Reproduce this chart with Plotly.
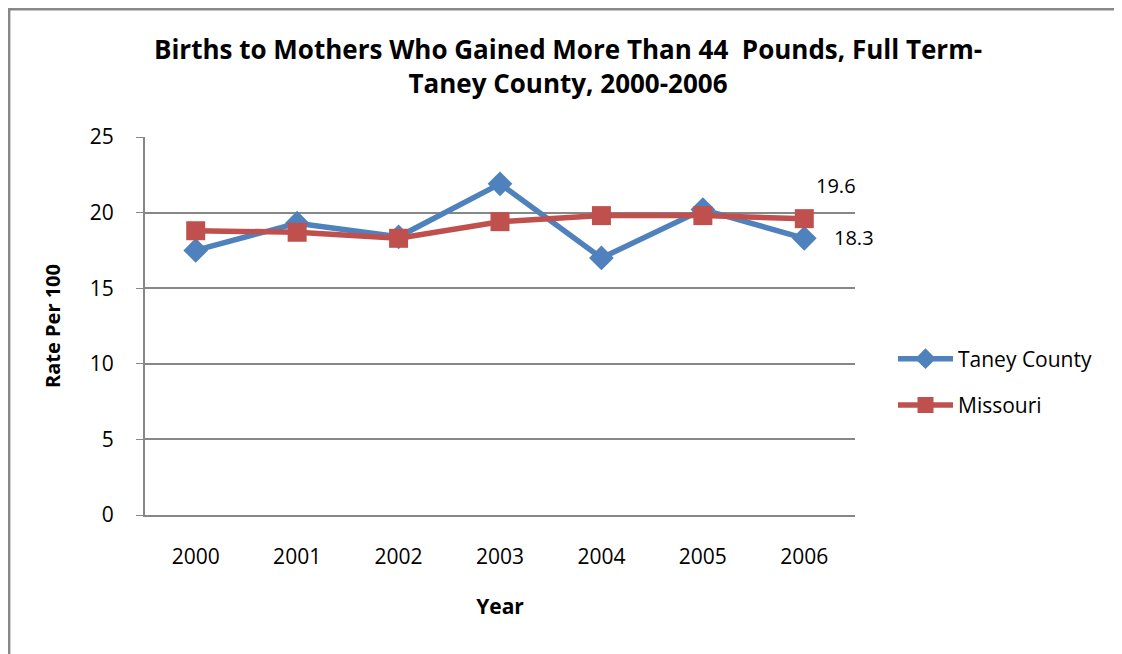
import plotly.graph_objects as go

years = ["2000", "2001", "2002", "2003", "2004", "2005", "2006"]
taney = [17.5, 19.3, 18.4, 21.9, 17.0, 20.2, 18.3]
missouri = [18.8, 18.7, 18.3, 19.4, 19.8, 19.8, 19.6]
y_ticks = [0, 5, 10, 15, 20, 25]

FONT = "Open Sans"
BLUE = "#4F81BD"
RED = "#C0504D"
GRID = "#878787"

# page body adds an 8px offset; target screenshot coords are converted
OFF = 8
W, H = 1122, 654
L, R, T, B = 145 - OFF, 855 - OFF, 137 - OFF, 515 - OFF
pw, ph = R - L, B - T


def px(xs):
    return (xs - OFF - L) / pw


def py(ys):
    return (B - (ys - OFF)) / ph


fig = go.Figure()
fig.add_trace(go.Scatter(
    x=years, y=taney, name="Taney County", mode="lines+markers",
    line=dict(color=BLUE, width=5.5),
    marker=dict(symbol="diamond", size=19, color=BLUE),
    legendgroup="a",
))
fig.add_trace(go.Scatter(
    x=years, y=missouri, name="Missouri", mode="lines+markers",
    line=dict(color=RED, width=5.5),
    marker=dict(symbol="square", size=19, color=RED),
    legendgroup="b",
))

last = len(years) - 1
fig.add_annotation(x=last, y=missouri[-1], xref="x", yref="y",
                   text=f"{missouri[-1]}", showarrow=False,
                   xshift=32, yshift=33, font=dict(family=FONT, size=20, color="black"))
fig.add_annotation(x=last, y=taney[-1], xref="x", yref="y",
                   text=f"{taney[-1]}", showarrow=False,
                   xshift=50, yshift=1, font=dict(family=FONT, size=20, color="black"))

# outer chart border
fig.add_shape(type="rect", xref="paper", yref="paper",
              x0=px(9.2), x1=px(1200), y0=py(720), y1=py(9.2),
              line=dict(color="#888888", width=2.4), layer="below")

fig.update_layout(
    width=W, height=H,
    margin=dict(l=L, r=W - R, t=T, b=H - B),
    paper_bgcolor="white", plot_bgcolor="white",
    title=dict(
        text="<b>Births to Mothers Who Gained More Than 44  Pounds, Full Term-<br>Taney County, 2000-2006</b>",
        x=(568 - OFF) / W, xref="container", xanchor="center",
        y=1 - (59 - OFF) / H, yref="container", yanchor="middle",
        font=dict(family=FONT, size=26, color="black"),
    ),
    xaxis=dict(
        type="category", range=[-0.5, 6.5],
        showgrid=False, showline=True, linecolor=GRID, linewidth=2,
        ticks="", tickfont=dict(family=FONT, size=21, color="black"),
        ticklabelstandoff=22,
        title=dict(text="<b>Year</b>", font=dict(family=FONT, size=21, color="black"), standoff=30),
    ),
    yaxis=dict(
        range=[0, 25], tickvals=y_ticks,
        showgrid=True, gridcolor=GRID, gridwidth=1.8,
        showline=True, linecolor=GRID, linewidth=2,
        ticks="outside", ticklen=7, tickcolor=GRID,
        tickfont=dict(family=FONT, size=21, color="black"),
        ticklabelstandoff=18,
        zeroline=False,
        title=dict(text="<b>Rate Per 100</b>", font=dict(family=FONT, size=20, color="black"), standoff=24),
    ),
    legend=dict(
        x=px(893), y=py(382), xanchor="left", yanchor="middle",
        font=dict(family=FONT, size=21, color="black"),
        tracegroupgap=16, itemwidth=55,
        bgcolor="rgba(0,0,0,0)",
    ),
    showlegend=True,
)

fig.write_html("out.html")
